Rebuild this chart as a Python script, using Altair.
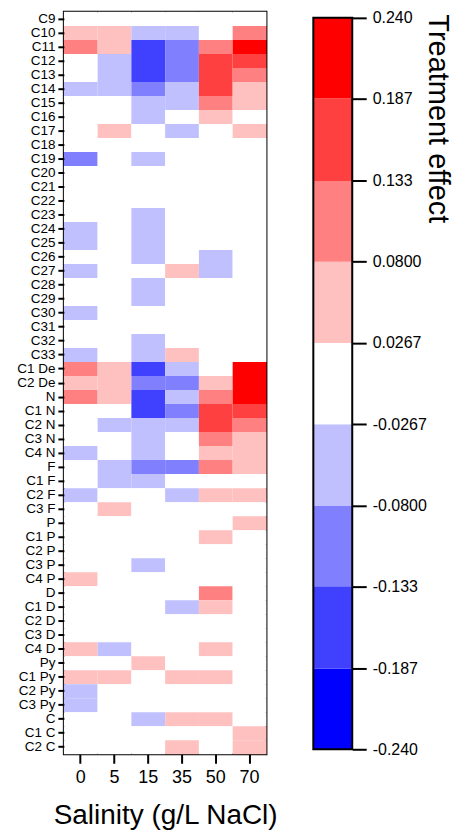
import altair as alt
import pandas as pd

# Row labels (top to bottom) and salinity treatments (g/L NaCl)
groups = [
    "C9", "C10", "C11", "C12", "C13", "C14", "C15", "C16", "C17", "C18",
    "C19", "C20", "C21", "C22", "C23", "C24", "C25", "C26", "C27", "C28",
    "C29", "C30", "C31", "C32", "C33", "C1 De", "C2 De", "N", "C1 N", "C2 N",
    "C3 N", "C4 N", "F", "C1 F", "C2 F", "C3 F", "P", "C1 P", "C2 P", "C3 P",
    "C4 P", "D", "C1 D", "C2 D", "C3 D", "C4 D", "Py", "C1 Py", "C2 Py",
    "C3 Py", "C", "C1 C", "C2 C",
]
salinity = ["0", "5", "15", "35", "50", "70"]

# Treatment effect per row, one list per salinity level
eff_0 = [
    0.0, 0.05, 0.11, 0.0, 0.0, -0.05, 0.0, 0.0, 0.0, 0.0,
    -0.11, 0.0, 0.0, 0.0, 0.0, -0.05, -0.05, 0.0, -0.05, 0.0,
    0.0, -0.05, 0.0, 0.0, -0.05, 0.11, 0.05, 0.11, 0.0, 0.0,
    0.0, -0.05, 0.0, 0.0, -0.05, 0.0, 0.0, 0.0, 0.0, 0.0,
    0.05, 0.0, 0.0, 0.0, 0.0, 0.05, 0.0, 0.05, -0.05,
    -0.05, 0.0, 0.0, 0.0,
]
eff_5 = [
    0.0, 0.05, 0.05, -0.05, -0.05, -0.05, 0.0, 0.0, 0.05, 0.0,
    0.0, 0.0, 0.0, 0.0, 0.0, 0.0, 0.0, 0.0, 0.0, 0.0,
    0.0, 0.0, 0.0, 0.0, 0.0, 0.05, 0.05, 0.05, 0.0, -0.05,
    0.0, 0.0, -0.05, -0.05, 0.0, 0.05, 0.0, 0.0, 0.0, 0.0,
    0.0, 0.0, 0.0, 0.0, 0.0, -0.05, 0.0, 0.05, 0.0,
    0.0, 0.0, 0.0, 0.0,
]
eff_15 = [
    0.0, -0.05, -0.16, -0.16, -0.16, -0.11, -0.05, -0.05, 0.0, 0.0,
    -0.05, 0.0, 0.0, 0.0, -0.05, -0.05, -0.05, -0.05, 0.0, -0.05,
    -0.05, 0.0, 0.0, -0.05, -0.05, -0.16, -0.11, -0.16, -0.16, -0.05,
    -0.05, -0.05, -0.11, -0.05, 0.0, 0.0, 0.0, 0.0, 0.0, -0.05,
    0.0, 0.0, 0.0, 0.0, 0.0, 0.0, 0.05, 0.0, 0.0,
    0.0, -0.05, 0.0, 0.0,
]
eff_35 = [
    0.0, -0.05, -0.11, -0.11, -0.11, -0.05, -0.05, 0.0, -0.05, 0.0,
    0.0, 0.0, 0.0, 0.0, 0.0, 0.0, 0.0, 0.0, 0.05, 0.0,
    0.0, 0.0, 0.0, 0.0, 0.05, -0.05, -0.11, -0.05, -0.11, -0.05,
    0.0, 0.0, -0.11, 0.0, -0.05, 0.0, 0.0, 0.0, 0.0, 0.0,
    0.0, 0.0, -0.05, 0.0, 0.0, 0.0, 0.0, 0.05, 0.0,
    0.0, 0.05, 0.0, 0.05,
]
eff_50 = [
    0.0, 0.0, 0.11, 0.16, 0.16, 0.16, 0.11, 0.05, 0.0, 0.0,
    0.0, 0.0, 0.0, 0.0, 0.0, 0.0, 0.0, -0.05, -0.05, 0.0,
    0.0, 0.0, 0.0, 0.0, 0.0, 0.0, 0.05, 0.11, 0.16, 0.16,
    0.11, 0.05, 0.11, 0.0, 0.05, 0.0, 0.0, 0.05, 0.0, 0.0,
    0.0, 0.11, 0.05, 0.0, 0.0, 0.05, 0.0, 0.05, 0.0,
    0.0, 0.05, 0.0, 0.0,
]
eff_70 = [
    0.0, 0.11, 0.21, 0.16, 0.11, 0.05, 0.05, 0.0, 0.05, 0.0,
    0.0, 0.0, 0.0, 0.0, 0.0, 0.0, 0.0, 0.0, 0.0, 0.0,
    0.0, 0.0, 0.0, 0.0, 0.0, 0.21, 0.21, 0.21, 0.16, 0.11,
    0.05, 0.05, 0.05, 0.0, 0.05, 0.0, 0.05, 0.0, 0.0, 0.0,
    0.0, 0.0, 0.0, 0.0, 0.0, 0.0, 0.0, 0.0, 0.0,
    0.0, 0.0, 0.05, 0.05,
]

# Colour bins of the treatment-effect scale
edges = [-0.240, -0.187, -0.133, -0.0800, -0.0267, 0.0267, 0.0800, 0.133, 0.187, 0.240]
palette = ["#0000FF", "#4040FF", "#8080FF", "#C0C0FF", "#FFFFFF",
           "#FFC0C0", "#FF8080", "#FF4040", "#FF0000"]

FONT = "Liberation Sans"

columns = [eff_0, eff_5, eff_15, eff_35, eff_50, eff_70]
rows = []
for s, vals in zip(salinity, columns):
    for g, v in zip(groups, vals):
        rows.append({"group": g, "salinity": s, "effect": v})
df = pd.DataFrame(rows)

heat = alt.Chart(df).mark_rect().encode(
    x=alt.X(
        "salinity:O", sort=salinity,
        scale=alt.Scale(paddingInner=0, paddingOuter=0),
        axis=alt.Axis(title="Salinity (g/L NaCl)", labelAngle=0, labelFontSize=18,
                      titleFontSize=28, titleFontWeight="normal", titlePadding=15,
                      tickSize=9, tickWidth=2, labelPadding=5, domain=False),
    ),
    y=alt.Y(
        "group:O", sort=groups,
        scale=alt.Scale(paddingInner=0, paddingOuter=0),
        axis=alt.Axis(title=None, labelFontSize=13.5, tickSize=6, tickWidth=2,
                      labelPadding=3, domain=False),
    ),
    color=alt.Color(
        "effect:Q",
        scale=alt.Scale(type="threshold", domain=edges[1:-1], range=palette),
        legend=None,
    ),
).properties(width=203, height=744,
             view=alt.ViewBackground(stroke="black", strokeWidth=2))

bins = pd.DataFrame({"lo": edges[:-1], "hi": edges[1:], "color": palette})
ybar = alt.Scale(domain=[-0.24, 0.24], range=[739, 6], nice=False, zero=False)

fills = alt.Chart(bins).mark_rect().encode(
    x=alt.value(0), x2=alt.value(39),
    y=alt.Y(
        "lo:Q", scale=ybar,
        axis=alt.Axis(orient="right", values=edges, title="Treatment effect",
                      labelExpr="replace(format(datum.value, '.3g'), '\u2212', '-')",
                      labelFontSize=16, tickSize=14, tickWidth=2, labelPadding=6,
                      domain=False, grid=False, titleFontSize=29,
                      titleFontWeight="normal", titleAngle=90, titleAlign="left",
                      titleBaseline="alphabetic", titleX=76, titleY=2),
    ),
    y2="hi:Q",
    fill=alt.Fill("color:N", scale=None),
)
outline = alt.Chart(pd.DataFrame({"lo": [edges[0]], "hi": [edges[-1]]})).mark_rect(
    filled=False, stroke="black", strokeWidth=2
).encode(x=alt.value(0), x2=alt.value(39), y=alt.Y("lo:Q", scale=ybar), y2="hi:Q")

bar = alt.layer(fills, outline).properties(
    width=39, height=744, view=alt.ViewBackground(stroke=None))

chart = alt.hconcat(heat, bar, spacing=47, bounds="flush").properties(
    padding={"left": 15, "top": 9, "right": 12, "bottom": 0}
).configure(font=FONT).configure_view(stroke=None).configure_axis(
    labelColor="black", tickColor="black", titleColor="black", labelFont=FONT,
    titleFont=FONT,
)

chart.save("out.html", embed_options={"renderer": "svg", "actions": False})
